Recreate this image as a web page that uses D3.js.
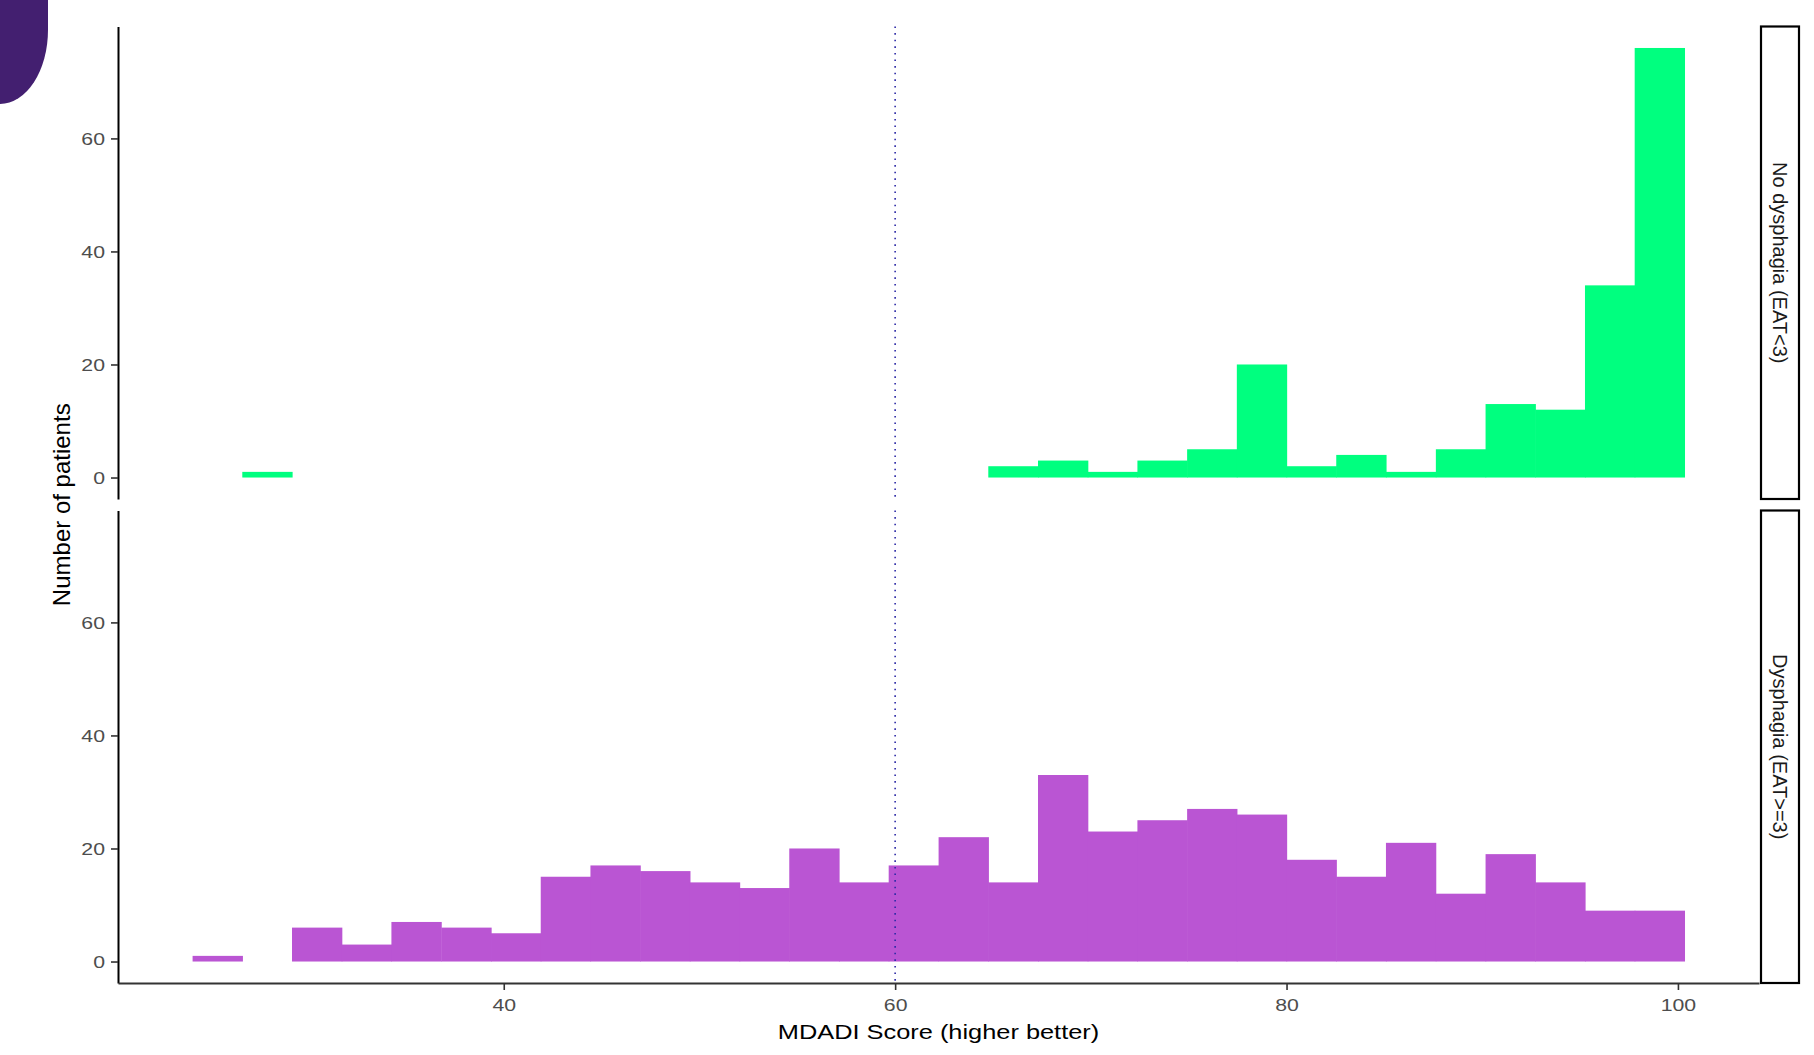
<!DOCTYPE html>
<html>
<head>
<meta charset="utf-8">
<script src="https://cdn.jsdelivr.net/npm/d3@7"></script>
<style>
  html, body { margin: 0; padding: 0; background: #ffffff; }
  svg { display: block; font-family: "Liberation Sans", Arial, sans-serif; }
</style>
</head>
<body>
<svg id="chart" width="1814" height="1055"></svg>
<script>
// ---- data ----
const binLow = [24.10, 26.64, 29.18, 31.72, 34.26, 36.81, 39.35, 41.89, 44.43, 46.97,
                49.51, 52.05, 54.59, 57.13, 59.67, 62.22, 64.76, 67.30, 69.84, 72.38,
                74.92, 77.46, 80.00, 82.54, 85.08, 87.63, 90.17, 92.71, 95.25, 97.79];
const binWidth = 2.541;
const facets = ["No dysphagia (EAT<3)", "Dysphagia (EAT>=3)"];
const noDysphagiaCounts = [0, 1, 0, 0, 0, 0, 0, 0, 0, 0,
                           0, 0, 0, 0, 0, 0, 2, 3, 1, 3,
                           5, 20, 2, 4, 1, 5, 13, 12, 34, 76];
const dysphagiaCounts = [1, 0, 6, 3, 7, 6, 5, 15, 17, 16,
                         14, 13, 20, 14, 17, 22, 14, 33, 23, 25,
                         27, 26, 18, 15, 21, 12, 19, 14, 9, 9];
const facetColors = ["#00FF7F", "#BA55D3"];
const xTicks = [40, 60, 80, 100];
const yTicks = [0, 20, 40, 60];
const refLine = 60;
const xTitle = "MDADI Score (higher better)";
const yTitle = "Number of patients";

// ---- layout ----
const svg = d3.select("#chart");
const left = 118, right = 1759;
const panels = [{top: 26.5, bottom: 499}, {top: 510.5, bottom: 983}];
const countsBy = [noDysphagiaCounts, dysphagiaCounts];

const xMin = binLow[0], xMax = binLow[binLow.length - 1] + binWidth;
const xPad = (xMax - xMin) * 0.05;
const x = d3.scaleLinear().domain([xMin - xPad, xMax + xPad]).range([left, right]);

const maxCount = d3.max([...noDysphagiaCounts, ...dysphagiaCounts]);
const yPad = maxCount * 0.05;

// decorative corner shape
svg.append("path")
  .attr("d", "M0,0 H48 V30 A48,74 0 0 1 0,104 Z")
  .attr("fill", "#431f70");

const stretch = 1.25;

panels.forEach((p, i) => {
  const y = d3.scaleLinear().domain([-yPad, maxCount + yPad]).range([p.bottom, p.top]);
  const g = svg.append("g");

  const bins = binLow.map((b, k) => ({x0: b, x1: b + binWidth, n: countsBy[i][k]})).filter(d => d.n > 0);
  g.selectAll("rect.bar").data(bins).enter().append("rect")
    .attr("class", "bar")
    .attr("x", d => x(d.x0))
    .attr("width", d => x(d.x1) - x(d.x0) + 0.6)
    .attr("y", d => y(d.n))
    .attr("height", d => y(0) - y(d.n))
    .attr("fill", facetColors[i]);

  // reference line
  g.append("line")
    .attr("x1", x(refLine)).attr("x2", x(refLine))
    .attr("y1", p.top).attr("y2", p.bottom)
    .attr("stroke", "#2d2aa6")
    .attr("stroke-width", 1.6)
    .attr("stroke-dasharray", "1.6,5");

  // y axis
  const ya = svg.append("g").attr("transform", `translate(${left},0)`)
    .call(d3.axisLeft(y).tickValues(yTicks).tickSize(7).tickSizeOuter(0));
  ya.select(".domain").attr("stroke", "#000").attr("stroke-width", 2);
  ya.selectAll(".tick line").attr("stroke", "#333").attr("stroke-width", 1.6);
  ya.selectAll(".tick text")
    .attr("x", -13 / stretch)
    .attr("dy", "0.36em")
    .attr("transform", `scale(${stretch},1)`)
    .attr("fill", "#4d4d4d")
    .style("font-size", "17px")
    .style("font-family", "'Liberation Sans', Arial, sans-serif");

  // strip
  const sx = 1761, sw = 38;
  svg.append("rect")
    .attr("x", sx).attr("y", p.top).attr("width", sw).attr("height", p.bottom - p.top)
    .attr("fill", "#ffffff").attr("stroke", "#000").attr("stroke-width", 2.2);
  svg.append("text")
    .attr("transform", `translate(${sx + sw / 2},${(p.top + p.bottom) / 2}) rotate(90)`)
    .attr("text-anchor", "middle")
    .attr("dy", "0.35em")
    .attr("fill", "#1a1a1a")
    .style("font-size", "20px")
    .text(facets[i]);

  if (i === 1) {
    const xa = svg.append("g").attr("transform", `translate(0,${p.bottom})`)
      .call(d3.axisBottom(x).tickValues(xTicks).tickSize(7).tickSizeOuter(0));
    xa.select(".domain").attr("stroke", "#333").attr("stroke-width", 2);
    xa.selectAll(".tick line").attr("stroke", "#333").attr("stroke-width", 1.6);
    xa.selectAll(".tick text")
      .attr("y", 28.5)
      .attr("dy", null)
      .attr("transform", `scale(${stretch},1)`)
      .attr("fill", "#4d4d4d")
      .style("font-size", "17px")
      .style("font-family", "'Liberation Sans', Arial, sans-serif");
  }
});

// axis titles
svg.append("text")
  .attr("transform", `translate(${(left + right) / 2},1039) scale(${stretch},1)`)
  .attr("text-anchor", "middle")
  .attr("fill", "#000")
  .style("font-size", "20.3px")
  .text(xTitle);

svg.append("text")
  .attr("transform", `translate(70,${(panels[0].top + panels[1].bottom) / 2}) rotate(-90)`)
  .attr("text-anchor", "middle")
  .attr("fill", "#000")
  .style("font-size", "24px")
  .text(yTitle);
</script>
</body>
</html>
